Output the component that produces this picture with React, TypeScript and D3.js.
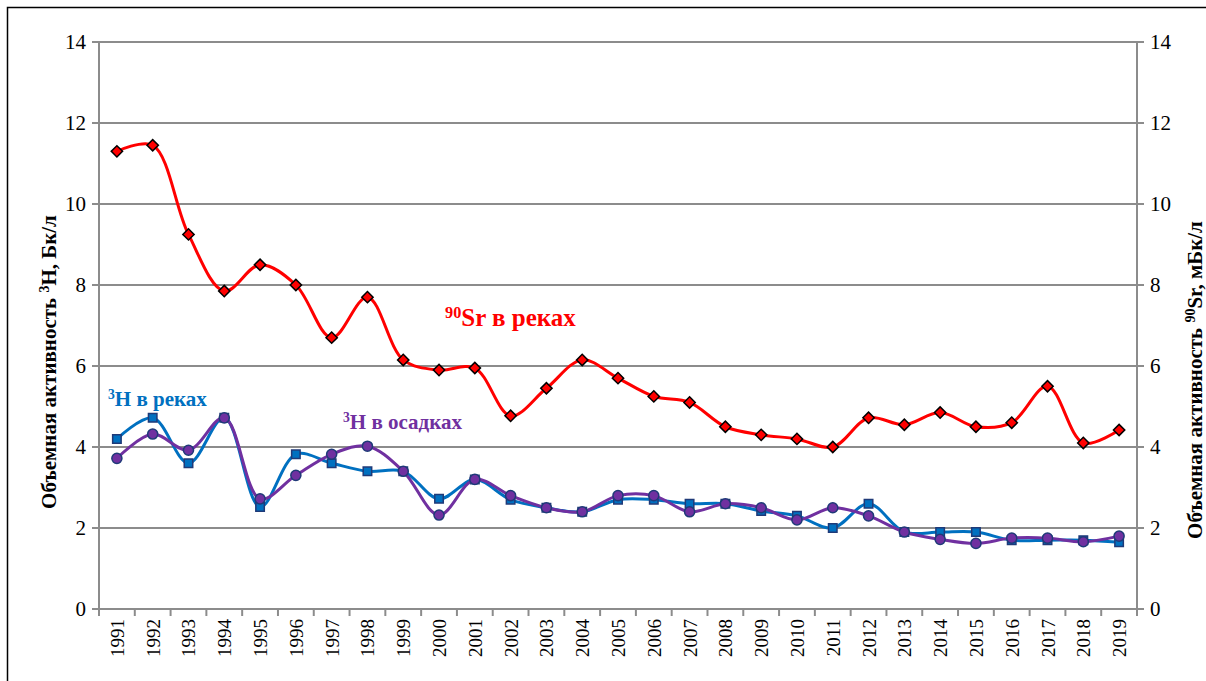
import React from 'react';
import * as d3 from 'd3';

const years = [
  '1991', '1992', '1993', '1994', '1995', '1996', '1997', '1998', '1999', '2000',
  '2001', '2002', '2003', '2004', '2005', '2006', '2007', '2008', '2009', '2010',
  '2011', '2012', '2013', '2014', '2015', '2016', '2017', '2018', '2019',
];

// 90Sr в реках, мБк/л (right axis)
const srRivers = [
  11.3, 11.45, 9.25, 7.85, 8.5, 8.0, 6.7, 7.7, 6.15, 5.9,
  5.95, 4.77, 5.45, 6.15, 5.7, 5.25, 5.1, 4.5, 4.3, 4.2,
  4.0, 4.72, 4.55, 4.85, 4.5, 4.6, 5.5, 4.1, 4.42,
];

// 3H в реках, Бк/л
const hRivers = [
  4.2, 4.72, 3.6, 4.72, 2.52, 3.82, 3.6, 3.4, 3.4, 2.72,
  3.2, 2.7, 2.5, 2.4, 2.7, 2.7, 2.6, 2.6, 2.42, 2.3,
  2.0, 2.6, 1.9, 1.9, 1.9, 1.7, 1.7, 1.7, 1.65,
];

// 3H в осадках, Бк/л
const hPrecip = [
  3.72, 4.32, 3.92, 4.72, 2.72, 3.3, 3.82, 4.02, 3.4, 2.32,
  3.2, 2.8, 2.5, 2.4, 2.8, 2.8, 2.4, 2.6, 2.5, 2.2,
  2.5, 2.3, 1.9, 1.72, 1.62, 1.75, 1.75, 1.66, 1.8,
];

const yTicks = [0, 2, 4, 6, 8, 10, 12, 14];

const FONT = 'serif';
const GRID = '#8c8c8c';

const W = 1206, H = 681;
const left = 99, right = 1137, top = 42, bottom = 609;

const x = d3.scaleBand().domain(years).range([left, right]);
const yL = d3.scaleLinear().domain([0, 14]).range([bottom, top]);
const yR = d3.scaleLinear().domain([0, 14]).range([bottom, top]);
const cx = (d: string) => (x(d) || 0) + x.bandwidth() / 2;

const curve = d3.curveCatmullRom.alpha(0.5);

type Marker = 'diamond' | 'square' | 'circle';

const Series: React.FC<{
  vals: number[]; scale: d3.ScaleLinear<number, number>; color: string;
  marker: Marker; stroke: string;
}> = ({ vals, scale, color, marker, stroke }) => {
  const line = d3.line<number>()
    .x((d, i) => cx(years[i]))
    .y(d => scale(d))
    .curve(curve);
  const sym = marker === 'circle' ? d3.symbolCircle : d3.symbolSquare;
  const size = marker === 'diamond' ? 64 : marker === 'square' ? 72 : 80;
  const shape = d3.symbol().type(sym).size(size)() || '';
  return (
    <g>
      <path d={line(vals) || ''} fill="none" stroke={color} strokeWidth={3} />
      {vals.map((v, i) => (
        <path
          key={i}
          d={shape}
          transform={`translate(${cx(years[i])},${scale(v)})${marker === 'diamond' ? ' rotate(45)' : ''}`}
          fill={color}
          stroke={stroke}
          strokeWidth={1.5}
        />
      ))}
    </g>
  );
};

const Label: React.FC<{ x: number; y: number; sup: string; main: string; color: string; size: number }> =
  ({ x: lx, y: ly, sup, main, color, size }) => (
    <text x={lx} y={ly} fill={color} fontWeight="bold" fontSize={size} style={{ fontFamily: FONT }}>
      <tspan dy={-size * 0.33} fontSize={size * 0.65}>{sup}</tspan>
      <tspan dy={size * 0.33}>{main}</tspan>
    </text>
  );

const Title: React.FC<{ x: number; y: number; pre: string; sup: string; post: string }> =
  ({ x: tx, y: ty, pre, sup, post }) => (
    <text
      transform={`translate(${tx},${ty}) rotate(-90)`}
      textAnchor="middle"
      fontWeight="bold"
      fontSize={21}
      style={{ fontFamily: FONT }}
    >
      <tspan>{pre}</tspan>
      <tspan dy={-7} fontSize={14}>{sup}</tspan>
      <tspan dy={7}>{post}</tspan>
    </text>
  );

const App: React.FC = () => {
  return (
    <svg width={W} height={H} style={{ position: 'absolute', left: 0, top: 0 }}>
      <rect width={W} height={H} fill="#fff" />
      <rect x={7.5} y={7.5} width={W + 10} height={H + 10} fill="none" stroke="#000" strokeWidth={1.5} />

      {/* gridlines */}
      {yTicks.filter(t => t > 0).map(t => (
        <line key={t} x1={left} x2={right} y1={yL(t)} y2={yL(t)} stroke={GRID} strokeWidth={2} />
      ))}

      {/* left & right axes */}
      <line x1={left} x2={left} y1={top} y2={bottom + 7} stroke={GRID} strokeWidth={2} />
      <line x1={right} x2={right} y1={top} y2={bottom + 7} stroke={GRID} strokeWidth={2} />
      {yTicks.map(t => (
        <g key={t}>
          <line x1={left - 7} x2={left} y1={yL(t)} y2={yL(t)} stroke={GRID} strokeWidth={2} />
          <line x1={right} x2={right + 7} y1={yR(t)} y2={yR(t)} stroke={GRID} strokeWidth={2} />
          <text x={left - 13} y={yL(t)} dy="0.35em" textAnchor="end" fontSize={21} style={{ fontFamily: FONT }}>{t}</text>
          <text x={right + 13} y={yR(t)} dy="0.35em" textAnchor="start" fontSize={21} style={{ fontFamily: FONT }}>{t}</text>
        </g>
      ))}

      {/* bottom axis */}
      <line x1={left - 7} x2={right + 7} y1={bottom} y2={bottom} stroke={GRID} strokeWidth={2} />
      {years.concat(['end']).map((d, i) => (
        <line key={d} x1={left + i * x.step()} x2={left + i * x.step()} y1={bottom} y2={bottom + 7} stroke={GRID} strokeWidth={2} />
      ))}
      {years.map(d => (
        <text
          key={d}
          transform={`translate(${cx(d) + 7},${bottom + 10}) rotate(-90)`}
          textAnchor="end"
          fontSize={19}
          style={{ fontFamily: FONT }}
        >
          {d}
        </text>
      ))}

      <Series vals={hRivers} scale={yL} color="#0070c0" marker="square" stroke="#1f3a78" />
      <Series vals={hPrecip} scale={yL} color="#7030a0" marker="circle" stroke="#1f3a78" />
      <Series vals={srRivers} scale={yR} color="#ff0000" marker="diamond" stroke="#000" />

      <Label x={445} y={326} sup="90" main="Sr в реках" color="#ff0000" size={25} />
      <Label x={108} y={406} sup="3" main="H в реках" color="#0070c0" size={21} />
      <Label x={343} y={429} sup="3" main="H в осадках" color="#7030a0" size={21} />

      <Title x={56} y={362} pre="Объемная активность " sup="3" post="H, Бк/л" />
      <Title x={1202} y={380} pre="Объемная активность " sup="90" post="Sr, мБк/л" />
    </svg>
  );
};

export default App;
